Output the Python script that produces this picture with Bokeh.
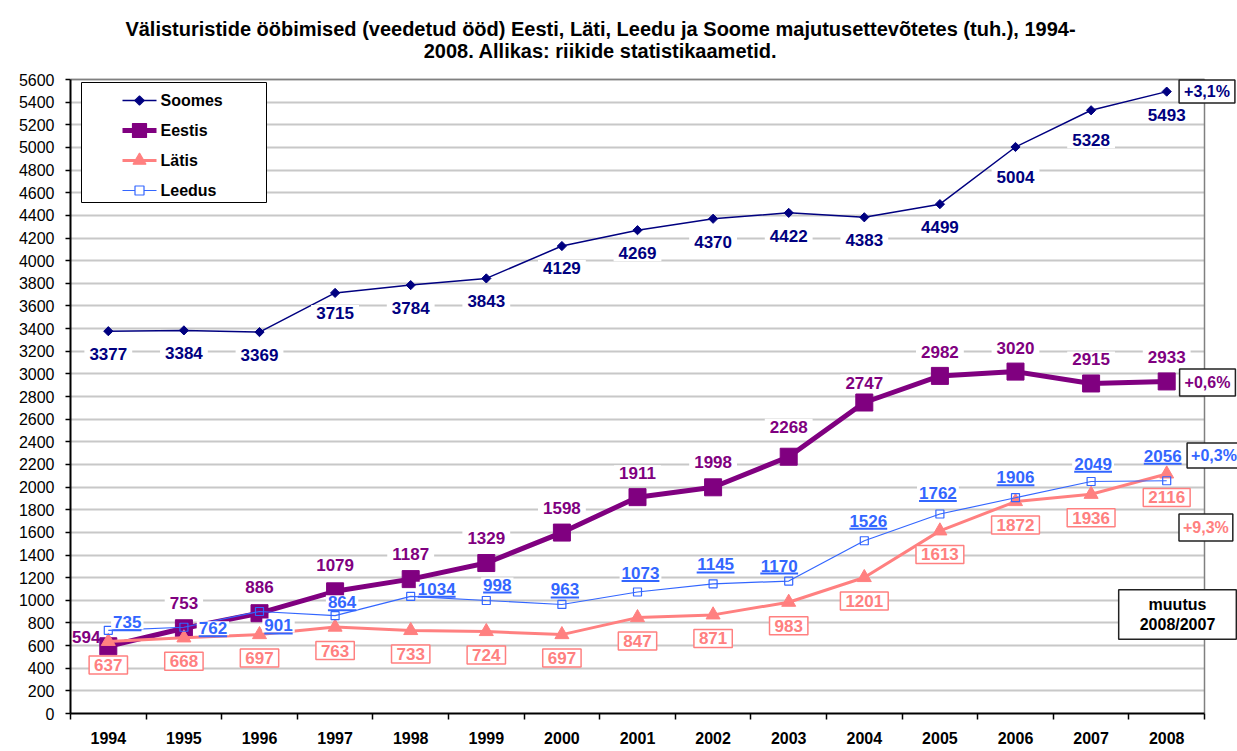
from bokeh.plotting import figure
from bokeh.models import Range1d, FixedTicker, Label, Arrow, ColumnDataSource
from bokeh.embed import file_html
from bokeh.resources import INLINE
import math

# ---------------- data ----------------
years = ["1994", "1995", "1996", "1997", "1998", "1999", "2000", "2001",
         "2002", "2003", "2004", "2005", "2006", "2007", "2008"]
soomes = [3377, 3384, 3369, 3715, 3784, 3843, 4129, 4269, 4370, 4422, 4383, 4499, 5004, 5328, 5493]
eestis = [594, 753, 886, 1079, 1187, 1329, 1598, 1911, 1998, 2268, 2747, 2982, 3020, 2915, 2933]
latis = [637, 668, 697, 763, 733, 724, 697, 847, 871, 983, 1201, 1613, 1872, 1936, 2116]
leedus = [735, 762, 901, 864, 1034, 998, 963, 1073, 1145, 1170, 1526, 1762, 1906, 2049, 2056]
series_names = ["Soomes", "Eestis", "Lätis", "Leedus"]
changes = ["+3,1%", "+0,6%", "+0,3%", "+9,3%"]
change_caption = "muutus\n2008/2007"
y_ticks = list(range(0, 5601, 200))
title_lines = ["Välisturistide ööbimised (veedetud ööd) Eesti, Läti, Leedu ja Soome majutusettevõtetes (tuh.), 1994-",
               "2008. Allikas: riikide statistikaametid."]

# ---------------- styles / layout ----------------
NAVY, PURPLE, SALMON, BLUE = "#000080", "#800080", "#FF8080", "#3366FF"
FONT = "Liberation Sans"
W, H = 1237, 751
X0, X1, Y0, Y1 = 1993.5, 2008.5, 0, 5600
FL, FT, FW, FH = 70, 79, 1134, 634   # plot area on the page (px)
KX = FW / (X1 - X0)
KY = FH / (Y1 - Y0)
X_END = X1 + (W - (FL + FW)) / KX     # frame continues to the right edge
Y_END = Y1 + FT / KY                  # and up to the top edge


def px2x(px):
    return X0 + (px - FL) / KX


def py2y(py):
    return Y0 + (FT + FH - py) / KY


xs = [int(y) for y in years]

p = figure(width=W, height=H, output_backend="svg", toolbar_location=None,
           x_range=Range1d(X0, X_END), y_range=Range1d(Y0, Y_END),
           min_border_left=FL, min_border_right=0, min_border_top=0,
           min_border_bottom=H - (FT + FH), title=None)
p.background_fill_color = "white"
p.border_fill_color = "white"
p.outline_line_color = None

# axes
p.xaxis.bounds = (X0, X1)
p.xaxis.ticker = FixedTicker(ticks=xs, minor_ticks=[X0 + i for i in range(16)])
p.xaxis.major_label_overrides = {x: y for x, y in zip(xs, years)}
p.xaxis.major_tick_line_color = None
p.xaxis.major_tick_out = 0
p.xaxis.major_tick_in = 0
p.xaxis.minor_tick_out = 6
p.xaxis.minor_tick_in = 0
p.xaxis.minor_tick_line_color = "black"
p.xaxis.minor_tick_line_width = 1.5
p.xaxis.major_label_standoff = 12
p.xaxis.major_label_text_font = FONT
p.xaxis.major_label_text_font_style = "bold"
p.xaxis.major_label_text_font_size = "16px"
p.xaxis.major_label_text_color = "black"
p.xaxis.axis_line_color = "black"
p.xaxis.axis_line_width = 2

p.yaxis.bounds = (Y0, Y1)
p.yaxis.ticker = FixedTicker(ticks=y_ticks)
p.yaxis.minor_tick_line_color = None
p.yaxis.major_tick_out = 5
p.yaxis.major_tick_in = 0
p.yaxis.major_tick_line_color = "black"
p.yaxis.major_tick_line_width = 1.5
p.yaxis.major_label_standoff = 11
p.yaxis.major_label_text_font = FONT
p.yaxis.major_label_text_font_size = "16px"
p.yaxis.major_label_text_color = "black"
p.yaxis.axis_line_color = "black"
p.yaxis.axis_line_width = 2

p.xgrid.visible = False
p.ygrid.ticker = FixedTicker(ticks=y_ticks)
p.ygrid.grid_line_color = "#C8C8C8"
p.ygrid.grid_line_width = 2

# mask gridlines right of the plot area, then plot-area border (top / right)
p.quad(left=X1, right=X_END, bottom=Y0, top=Y_END, fill_color="white", line_color=None)
p.segment(x0=[X0, X1], y0=[Y1, Y0], x1=[X1, X1], y1=[Y1, Y1], line_color="#808080", line_width=1.5)

# ---------------- series ----------------
p.line(xs, soomes, line_color=NAVY, line_width=1.5)
p.scatter(xs, soomes, marker="square", angle=math.pi / 4, size=6.5, color=NAVY)
p.line(xs, eestis, line_color=PURPLE, line_width=5)
p.scatter(xs, eestis, marker="square", size=17, color=PURPLE)
p.line(xs, latis, line_color=SALMON, line_width=3)
p.scatter(xs, latis, marker="triangle", size=14, color=SALMON)
p.line(xs, leedus, line_color=BLUE, line_width=1.2)
p.scatter(xs, leedus, marker="square", size=8, line_color=BLUE, fill_color=None, line_width=1.2)

# ---------------- legend (boxed legend) ----------------
p.quad(left=px2x(81), right=px2x(266), top=py2y(82), bottom=py2y(202),
       fill_color="white", line_color="black", line_width=1)
leg_styles = [
    dict(color=NAVY, lw=1.5, marker="square", angle=math.pi / 4, size=6.5, fill=NAVY),
    dict(color=PURPLE, lw=5, marker="square", angle=0, size=14, fill=PURPLE),
    dict(color=SALMON, lw=3, marker="triangle", angle=0, size=13, fill=SALMON),
    dict(color=BLUE, lw=1.2, marker="square", angle=0, size=9, fill="white"),
]
for i, (name, st) in enumerate(zip(series_names, leg_styles)):
    ly = py2y(100 + 30 * i)
    p.line([px2x(122), px2x(156)], [ly, ly], line_color=st["color"], line_width=st["lw"])
    p.scatter([px2x(139)], [ly], marker=st["marker"], angle=st["angle"], size=st["size"],
              line_color=st["color"], fill_color=st["fill"], line_width=1.2)
    p.add_layout(Label(x=px2x(160), y=ly, text=name, text_font=FONT, text_font_size="16px",
                       text_font_style="bold", text_color="black", text_align="left",
                       text_baseline="middle"))


def add_label(x, y, text, color, dx=0, dy=0, size="17px", bg="white", border=None,
              pad=(5, 2), align="center", bw=1):
    # pad = (horizontal, vertical)
    lab = Label(x=x, y=y, text=text, x_offset=dx, y_offset=dy, text_color=color,
                text_font=FONT, text_font_size=size, text_font_style="bold",
                text_align=align, text_baseline="middle",
                background_fill_color=bg, border_line_color=border, border_line_width=bw,
                padding=pad)
    p.add_layout(lab)


# Soomes labels (below)
soomes_dy = [-23, -23, -23, -20, -23, -23, -22, -23, -23, -23, -23, -23, -30, -30, -23]
for x, v, dy in zip(xs, soomes, soomes_dy):
    add_label(x, v, str(v), NAVY, 0, dy)

# Eestis labels (above; the first one sits left of its point)
eestis_off = [(-22, 9), (0, 25), (0, 26), (0, 26), (0, 25), (0, 25), (0, 25), (0, 24),
              (0, 25), (0, 30), (0, 20), (0, 24), (0, 24), (0, 24), (0, 24)]
for i, (x, v, (dx, dy)) in enumerate(zip(xs, eestis, eestis_off)):
    add_label(x, v, str(v), PURPLE, dx, dy, bg=None if i == 0 else "white")

# Lätis labels (boxed, below)
for x, v in zip(xs, latis):
    add_label(x, v, str(v), SALMON, 0, -23.5, border=SALMON, pad=(5, 3), bw=1.5)

# Leedus labels (underlined)
leedus_off = [(19, 8), (29, -1), (19, -14), (7, 13.5), (26, 7.6), (11, 16), (3, 15), (3, 19),
              (2.5, 19.4), (-9.5, 15.5), (4, 20), (-2, 21), (0, 20.5), (2, 17.7), (-4, 25)]
ul = dict(x0=[], y0=[], x1=[], y1=[])
for x, v, (dx, dy) in zip(xs, leedus, leedus_off):
    add_label(x, v, str(v), BLUE, dx, dy, pad=(2, 1))
    w = len(str(v)) * 0.556 * 17
    yy = v + (dy - 8) / KY
    ul["x0"].append(x + (dx - w / 2) / KX)
    ul["x1"].append(x + (dx + w / 2) / KX)
    ul["y0"].append(yy)
    ul["y1"].append(yy)
p.add_layout(Arrow(end=None, source=ColumnDataSource(ul), x_start="x0", y_start="y0",
                   x_end="x1", y_end="y1", line_color=BLUE, line_width=2))

# change boxes on the right
change_pos = [(1206.5, 91, NAVY, (5, 3)), (1207, 382, PURPLE, (5, 5)),
              (1213.5, 455, BLUE, (4, 4)), (1205.4, 527, SALMON, (4, 5))]
for txt, (cx, cy, col, pad) in zip(changes, change_pos):
    add_label(px2x(cx), py2y(cy), txt, col, size="16px", border="#222222", pad=pad, bw=1.5)
add_label(px2x(1177), py2y(614), change_caption, "black", size="16px", border="#222222",
          pad=(21, 6), bw=1.5)

# title
for i, t in enumerate(title_lines):
    p.add_layout(Label(x=px2x(600), y=py2y(28 + 22.5 * i), text=t, text_font=FONT,
                       text_font_size="20px", text_font_style="bold", text_color="black",
                       text_align="center", text_baseline="middle"))

open("out.html", "w").write(file_html(p, INLINE))
